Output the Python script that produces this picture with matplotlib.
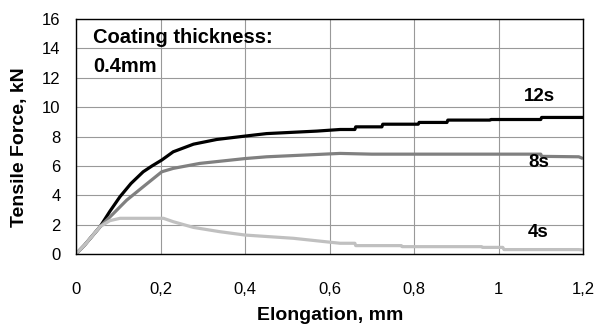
import matplotlib
matplotlib.use("Agg")
import matplotlib.pyplot as plt

plt.rcParams['font.family'] = ['Liberation Sans', 'DejaVu Sans']

# Données (allongement mm, force kN)
x_12s = [0, 0.02, 0.057, 0.08, 0.104, 0.13, 0.159, 0.18, 0.203, 0.23, 0.278, 0.333,
         0.4, 0.451, 0.57, 0.625, 0.66, 0.662, 0.724, 0.726, 0.81, 0.812, 0.878,
         0.88, 0.98, 0.982, 1.10, 1.102, 1.2]
y_12s = [0, 0.6, 1.86, 2.9, 3.9, 4.8, 5.6, 6.0, 6.4, 6.96, 7.48, 7.8,
         8.03, 8.2, 8.37, 8.48, 8.48, 8.66, 8.66, 8.84, 8.84, 8.96, 8.96,
         9.12, 9.12, 9.16, 9.16, 9.3, 9.3]

x_8s = [0, 0.02, 0.057, 0.09, 0.12, 0.159, 0.203, 0.23, 0.293, 0.4, 0.451, 0.625,
        0.7, 1.0, 1.1, 1.102, 1.19, 1.2]
y_8s = [0, 0.6, 1.86, 2.8, 3.67, 4.58, 5.6, 5.83, 6.17, 6.5, 6.62, 6.85,
        6.8, 6.8, 6.8, 6.65, 6.62, 6.5]

x_4s = [0, 0.02, 0.057, 0.08, 0.104, 0.207, 0.23, 0.278, 0.34, 0.4, 0.514, 0.625,
        0.66, 0.662, 0.77, 0.772, 0.96, 0.962, 1.01, 1.013, 1.19, 1.2]
y_4s = [0, 0.6, 1.86, 2.27, 2.43, 2.43, 2.2, 1.81, 1.52, 1.29, 1.07, 0.73,
        0.73, 0.57, 0.57, 0.5, 0.5, 0.45, 0.45, 0.3, 0.3, 0.27]

series_names = ["12s", "8s", "4s"]
label_pos = [(1.098, 10.7), (1.096, 6.26), (1.094, 1.43)]

x_ticks = [0, 0.2, 0.4, 0.6, 0.8, 1.0, 1.2]
x_ticklabels = ["0", "0,2", "0,4", "0,6", "0,8", "1", "1,2"]
y_ticks = list(range(0, 17, 2))

_COL_12 = "#000000"
_COL_8 = "#808080"
_COL_4 = "#c0c0c0"

fig = plt.figure(figsize=(6, 3.29), dpi=100)
ax = fig.add_axes([0.1267, 0.228, 0.845, 0.714])

ax.plot(x_12s, y_12s, color=_COL_12, lw=2.3, solid_capstyle="butt")
ax.plot(x_8s, y_8s, color=_COL_8, lw=2.3, solid_capstyle="butt")
ax.plot(x_4s, y_4s, color=_COL_4, lw=2.3, solid_capstyle="butt")

for name, (tx, ty) in zip(series_names, label_pos):
    ax.text(tx, ty, name, fontsize=13.5, fontweight="bold", ha="center", va="center")

ax.text(0.04, 14.76, "Coating thickness:", fontsize=14.5, fontweight="bold",
        ha="left", va="center")
ax.text(0.04, 12.8, "0.4mm", fontsize=14.5, fontweight="bold", ha="left", va="center")

ax.set_xlim(0, 1.2)
ax.set_ylim(0, 16)
ax.set_xticks(x_ticks)
ax.set_xticklabels(x_ticklabels)
ax.set_yticks(y_ticks)
ax.tick_params(axis="x", length=0, pad=20, labelsize=12)
ax.tick_params(axis="y", length=0, pad=11, labelsize=12)
ax.grid(True, color="#999999", lw=0.8)
ax.set_axisbelow(True)
for sp in ax.spines.values():
    sp.set_color("black")
    sp.set_linewidth(1.0)

fig.text(0.55, 1 - 316 / 329, "Elongation, mm", fontsize=14, fontweight="bold",
         ha="center", va="center")
fig.text(20 / 600, 1 - 147 / 329, "Tensile Force, kN", fontsize=14, fontweight="bold",
         ha="center", va="center", rotation=90)

fig.savefig("out.png", dpi=100)
